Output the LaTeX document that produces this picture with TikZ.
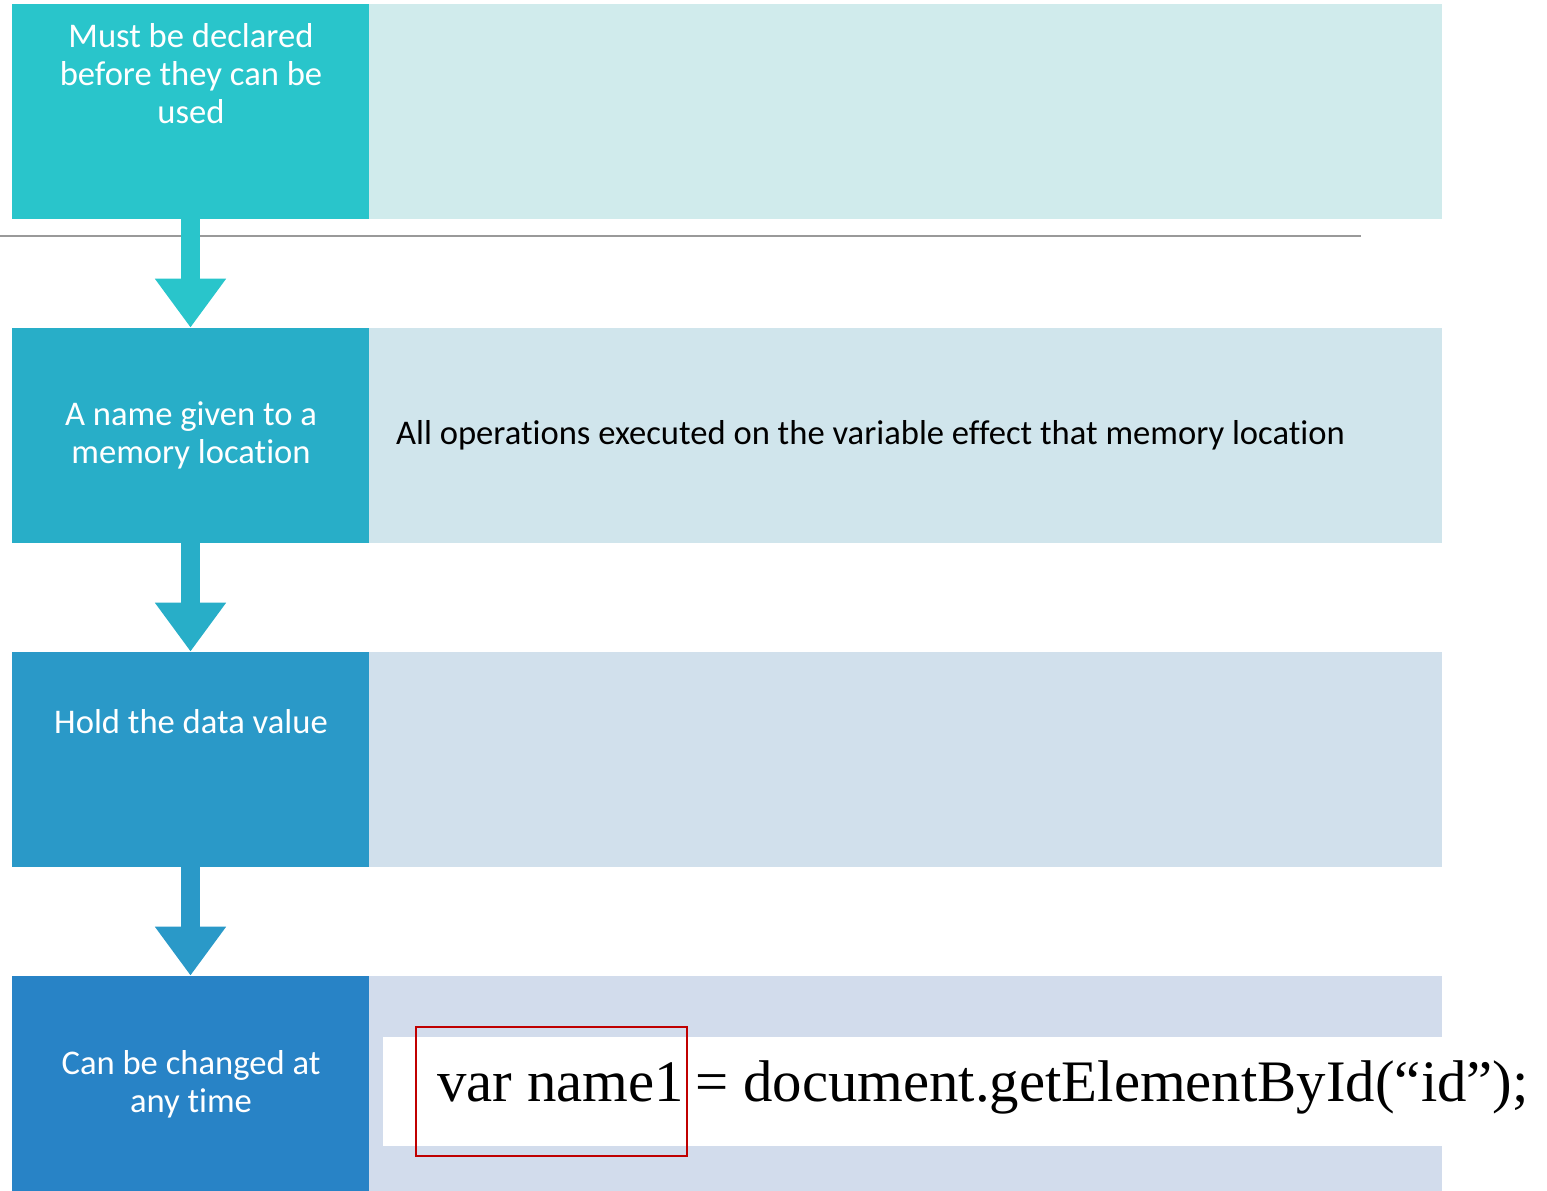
\documentclass[tikz,border=0pt]{standalone}
\usepackage{fontspec}
\setmainfont{Carlito}[Ligatures=NoCommon]
\newfontfamily\codefont{Liberation Serif}
\usetikzlibrary{arrows.meta,positioning}
\definecolor{stepA}{HTML}{29C5CB}
\definecolor{stepB}{HTML}{28AEC8}
\definecolor{stepC}{HTML}{2A99C8}
\definecolor{stepD}{HTML}{2883C6}
\definecolor{paneA}{HTML}{D0EBEC}
\definecolor{paneB}{HTML}{D0E5EC}
\definecolor{paneC}{HTML}{D1E0EC}
\definecolor{paneD}{HTML}{D2DCEC}
\definecolor{markred}{HTML}{C00000}
\tikzset{
  leftbox/.style={rectangle,inner sep=0pt,minimum width=178.5pt,minimum height=107.5pt},
  rightbox/.style={rectangle,inner sep=0pt,minimum width=536.5pt,minimum height=107.5pt},
  label/.style={text=white,align=center,font=\fontsize{17.3}{19}\selectfont},
  note/.style={font=\fontsize{17.3}{19}\selectfont},
  code/.style={font=\codefont\fontsize{29.4}{32}\selectfont,inner sep=0pt},
  flow/.style={line width=9.5pt,-{Triangle[width=34pt,length=24.5pt]}}
}
\begin{document}
\begin{tikzpicture}[x=0.5pt,y=-0.5pt]
  \useasboundingbox (0,0) rectangle (1547,1190);

  % Steps on the left, panes on the right
  \node[leftbox,fill=stepA]  (decl) at (190.5,111.5)  {};
  \node[rightbox,fill=paneA] (declpane) at (905.5,111.5) {};
  \node[leftbox,fill=stepB]  (name) at (190.5,435.5)  {};
  \node[rightbox,fill=paneB] (namepane) at (905.5,435.5) {};
  \node[leftbox,fill=stepC]  (hold) at (190.5,759.5)  {};
  \node[rightbox,fill=paneC] (holdpane) at (905.5,759.5) {};
  \node[leftbox,fill=stepD]  (change) at (190.5,1083.5) {};
  \node[rightbox,fill=paneD] (changepane) at (905.5,1083.5) {};

  % Texts
  \node[label] at (191,74)  {Must be declared\\before they can be\\used};
  \node[label] at (191,435) {A name given to a\\memory location};
  \node[label] at (191,722) {Hold the data value};
  \node[label] at (191,1084) {Can be changed at\\any time};
  \node[note,anchor=west] at (389,435)
    {All operations executed on the variable effect that memory location};

  % Rule under the first row
  \draw[line width=0.75pt,gray!80] (0,236) -- (1361,236);

  % Arrows between the steps
  \draw[flow,stepA] (decl.south) -- (name.north);
  \draw[flow,stepB] (name.south) -- (hold.north);
  \draw[flow,stepC] (hold.south) -- (change.north);

  % Code sample with the highlighted name
  \fill[white] (383,1037) rectangle (1442,1146);
  \node[code,anchor=base west] (var)  at (437,1101) {var name1};
  \node[code,anchor=base west] (rest) at (695,1101) {= document.getElementById(“id”);};
  \draw[markred,line width=1pt] (416,1027) rectangle (687,1156);
\end{tikzpicture}
\end{document}
